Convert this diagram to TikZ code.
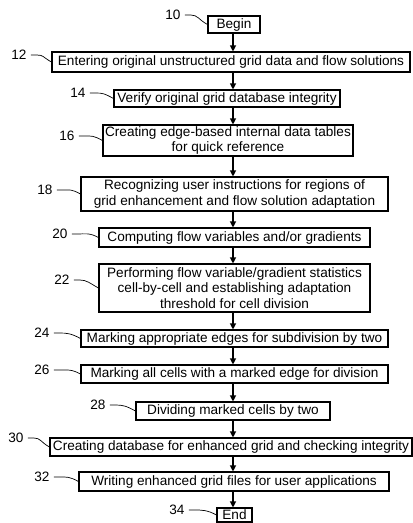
\documentclass[tikz,border=0pt]{standalone}
\usepackage{fontspec}
\setmainfont{Liberation Sans}
\usetikzlibrary{arrows.meta,calc}
\newcommand{\fs}{\fontsize{13.6}{15.3}\selectfont}
\tikzset{
  box/.style={draw, line width=1.1pt, inner sep=0pt, align=center, font=\fs},
  lbl/.style={font=\fs, inner sep=0pt},
  lead/.style={line width=0.7pt},
  arr/.style={line width=1.1pt, -{Triangle[length=6pt,width=6pt]}},
}
\newcommand{\leader}[2]{%
  \draw[lead] ($(#1.east)+(4,0)$) -- ++(6,0)
    .. controls +(7,0) and ($(#2.west)+(-9,-5)$) .. (#2.west);}
\begin{document}
\begin{tikzpicture}[x=1pt,y=-1pt]
\useasboundingbox (0,0) rectangle (413,523);
\coordinate (ax) at (233,0);
% boxes
\node[box, minimum width=52pt, minimum height=17pt] (b10) at (234,24.5) {Begin};
\node[box, minimum width=358pt, minimum height=20pt] (b12) at (231,62) {Entering original unstructured grid data and flow solutions};
\node[box, minimum width=226pt, minimum height=17pt] (b14) at (227,98.5) {Verify original grid database integrity};
\node[box, minimum width=250pt, minimum height=31pt] (b16) at (228,140.5) {Creating edge-based internal data tables\\for quick reference};
\node[box, minimum width=307pt, minimum height=34pt] (b18) at (234.5,194) {Recognizing user instructions for regions of\\grid enhancement and flow solution adaptation};
\node[box, minimum width=271pt, minimum height=19pt] (b20) at (234.5,237.5) {Computing flow variables and/or gradients};
\node[box, minimum width=271pt, minimum height=48pt] (b22) at (234.5,288) {Performing flow variable/gradient statistics\\cell-by-cell and establishing adaptation\\threshold for cell division};
\node[box, minimum width=307pt, minimum height=17pt] (b24) at (234.5,338.5) {Marking appropriate edges for subdivision by two};
\node[box, minimum width=307pt, minimum height=18pt] (b26) at (234.5,374) {Marking all cells with a marked edge for division};
\node[box, minimum width=194pt, minimum height=18pt] (b28) at (233,411) {Dividing marked cells by two};
\node[box, minimum width=362pt, minimum height=18pt] (b30) at (231,447) {Creating database for enhanced grid and checking integrity};
\node[box, minimum width=310pt, minimum height=19pt] (b32) at (234,481.5) {Writing enhanced grid files for user applications};
\node[box, minimum width=35pt, minimum height=14pt] (b34) at (234.5,515) {End};
% labels
\node[lbl] (l10) at (173,15) {10};
\node[lbl] (l12) at (19,55) {12};
\node[lbl] (l14) at (78,93) {14};
\node[lbl] (l16) at (67,136) {16};
\node[lbl] (l18) at (45,190) {18};
\node[lbl] (l20) at (60,234) {20};
\node[lbl] (l22) at (62,280) {22};
\node[lbl] (l24) at (42,333) {24};
\node[lbl] (l26) at (42,370) {26};
\node[lbl] (l28) at (98,405) {28};
\node[lbl] (l30) at (16,438) {30};
\node[lbl] (l32) at (42,477) {32};
\node[lbl] (l34) at (177,510) {34};
% leaders
\leader{l10}{b10}
\leader{l12}{b12}
\leader{l14}{b14}
\leader{l16}{b16}
\leader{l18}{b18}
\leader{l20}{b20}
\leader{l22}{b22}
\leader{l24}{b24}
\leader{l26}{b26}
\leader{l28}{b28}
\leader{l30}{b30}
\leader{l32}{b32}
\leader{l34}{b34}
% arrows
\foreach \a/\b in {b10/b12,b12/b14,b14/b16,b16/b18,b18/b20,b20/b22,b22/b24,b24/b26,b26/b28,b28/b30,b30/b32,b32/b34}
  \draw[arr] (\a.south -| ax) -- (\b.north -| ax);
\end{tikzpicture}
\end{document}
